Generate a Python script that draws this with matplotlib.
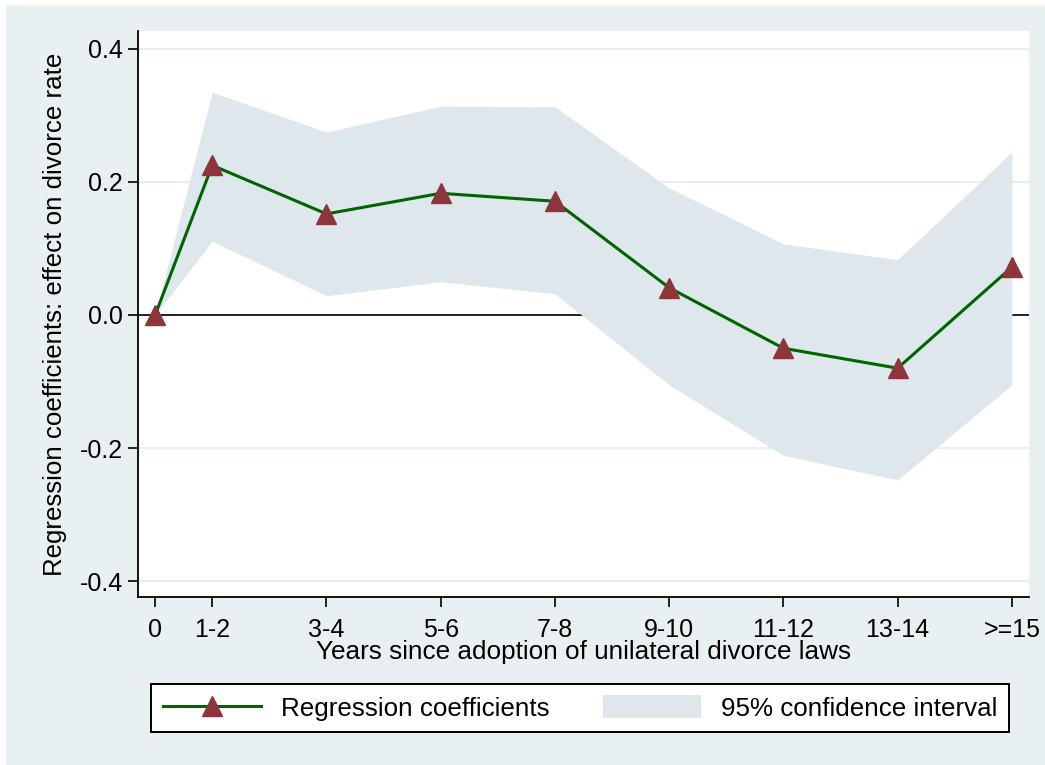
import matplotlib
matplotlib.use("Agg")
import matplotlib.pyplot as plt
from matplotlib.patches import Rectangle

plt.rcParams['font.family'] = ['Liberation Sans', 'DejaVu Sans']

# event-time bins (x positions) and their labels
years = [0, 1, 3, 5, 7, 9, 11, 13, 15]
year_labels = ['0', '1-2', '3-4', '5-6', '7-8', '9-10', '11-12', '13-14', '>=15']

# regression coefficients and 95% CI bounds
coef = [0.0, 0.225, 0.152, 0.183, 0.171, 0.041, -0.050, -0.080, 0.072]
ci_upper = [0.0, 0.335, 0.275, 0.314, 0.313, 0.191, 0.107, 0.083, 0.245]
ci_lower = [0.0, 0.111, 0.029, 0.050, 0.032, -0.105, -0.211, -0.248, -0.105]

y_ticks = [-0.4, -0.2, 0.0, 0.2, 0.4]

BG = '#e8f0f2'
FILL = '#dde7ec'
GRID = '#e2ecef'
GREEN = '#006400'
CRANBERRY = '#8e353b'

W, H = 1045, 765
fig = plt.figure(figsize=(W / 100, H / 100), dpi=100)
fig.patch.set_facecolor('white')
fig.patches.append(Rectangle((6 / W, 0), 1 - 6 / W, 1 - 5 / H, transform=fig.transFigure,
                             facecolor=BG, edgecolor='none', zorder=-10))

ax = fig.add_axes([138 / W, 1 - 597 / H, (1029 - 138) / W, (597 - 31) / H])
ax.set_facecolor('white')

ax.set_xlim(-0.3, 15.3)
ax.set_ylim(-0.424, 0.427)

ax.set_yticks(y_ticks)
ax.set_yticklabels([f'{t:.1f}' for t in y_ticks])
ax.set_xticks(years)
ax.set_xticklabels(year_labels)

ax.yaxis.grid(True, color=GRID, linewidth=1.2, zorder=0)
ax.set_axisbelow(True)
ax.axhline(0, color='black', linewidth=1.2, zorder=1)

ax.fill_between(years, ci_lower, ci_upper, color=FILL, linewidth=0, zorder=2,
                label='95% confidence interval')
ax.plot(years, coef, color=GREEN, linewidth=2.2, marker='^', markersize=15,
        markerfacecolor=CRANBERRY, markeredgecolor=CRANBERRY, zorder=3,
        label='Regression coefficients')

for side in ['top', 'right']:
    ax.spines[side].set_visible(False)
for side in ['left', 'bottom']:
    ax.spines[side].set_linewidth(1.3)
ax.tick_params(axis='both', length=7, width=1.2, labelsize=18)
ax.tick_params(axis='x', pad=8)
ax.tick_params(axis='y', pad=4)

ax.set_xlabel('Years since adoption of unilateral divorce laws', fontsize=18.8, labelpad=-1)
ax.set_ylabel('Regression coefficients: effect on divorce rate', fontsize=18.6, labelpad=9)

handles, labels = ax.get_legend_handles_labels()
leg = fig.legend(handles[::-1], labels[::-1], loc='center left', ncol=2,
                 bbox_to_anchor=(151 / W, 1 - 708 / H),
                 fontsize=18.7, frameon=True, fancybox=False, framealpha=1,
                 edgecolor='black', handlelength=3.8, handleheight=1.0,
                 handletextpad=0.75, columnspacing=2.05, borderpad=0.45,
                 borderaxespad=0)
leg.get_frame().set_linewidth(1.4)

fig.savefig('out.png', dpi=100, facecolor=fig.get_facecolor())
